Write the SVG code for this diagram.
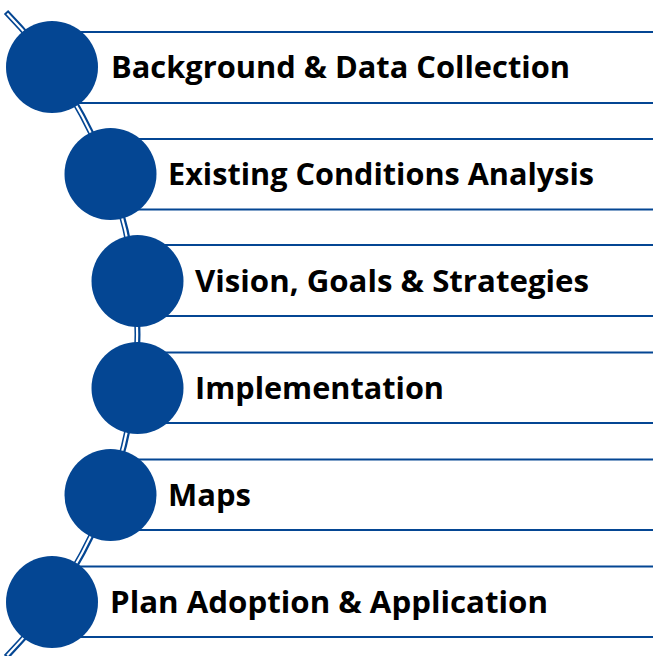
<svg xmlns="http://www.w3.org/2000/svg" width="653" height="656" viewBox="0 0 653 656">
<style>
.bar{stroke:#044693;stroke-width:2.2;fill:none}
.dot{fill:#044693}
.lbl{font-family:"Open Sans",Lato,"Liberation Sans",sans-serif;font-weight:bold;font-size:31px;fill:#000}
</style>
<rect width="653" height="656" fill="#fff"/>
<g id="connectors">
<path d="M 6 12 A 461.2 461.2 0 0 1 6 657" fill="none" stroke="#044693" stroke-width="6" stroke-linecap="butt"/>
<path d="M 7.2 13.6 A 461.2 461.2 0 0 1 7.2 655.4" fill="none" stroke="#fff" stroke-width="2.2"/>
</g>
<g id="node1">
<line class="bar" x1="52" y1="32" x2="653" y2="32"/><line class="bar" x1="52" y1="103" x2="653" y2="103"/>
<circle class="dot" cx="52" cy="67" r="46"/>
<text class="lbl" x="111" y="77.5" textLength="459" lengthAdjust="spacingAndGlyphs">Background &amp; Data Collection</text>
</g>
<g id="node2">
<line class="bar" x1="110" y1="139" x2="653" y2="139"/><line class="bar" x1="110" y1="209.5" x2="653" y2="209.5"/>
<circle class="dot" cx="110.5" cy="174" r="46"/>
<text class="lbl" x="168" y="184.5" textLength="426" lengthAdjust="spacingAndGlyphs">Existing Conditions Analysis</text>
</g>
<g id="node3">
<line class="bar" x1="137" y1="245" x2="653" y2="245"/><line class="bar" x1="137" y1="316" x2="653" y2="316"/>
<circle class="dot" cx="137.5" cy="281" r="46"/>
<text class="lbl" x="195" y="291.5" textLength="394" lengthAdjust="spacingAndGlyphs">Vision, Goals &amp; Strategies</text>
</g>
<g id="node4">
<line class="bar" x1="137" y1="352.5" x2="653" y2="352.5"/><line class="bar" x1="137" y1="423" x2="653" y2="423"/>
<circle class="dot" cx="137.5" cy="388" r="46"/>
<text class="lbl" x="195" y="398.5" textLength="249" lengthAdjust="spacingAndGlyphs">Implementation</text>
</g>
<g id="node5">
<line class="bar" x1="110" y1="459.5" x2="653" y2="459.5"/><line class="bar" x1="110" y1="530" x2="653" y2="530"/>
<circle class="dot" cx="110.5" cy="495" r="46"/>
<text class="lbl" x="168" y="505.5" textLength="83" lengthAdjust="spacingAndGlyphs">Maps</text>
</g>
<g id="node6">
<line class="bar" x1="52" y1="566.5" x2="653" y2="566.5"/><line class="bar" x1="52" y1="637" x2="653" y2="637"/>
<circle class="dot" cx="52" cy="602" r="46"/>
<text class="lbl" x="110" y="612.5" textLength="438" lengthAdjust="spacingAndGlyphs">Plan Adoption &amp; Application</text>
</g>
</svg>
